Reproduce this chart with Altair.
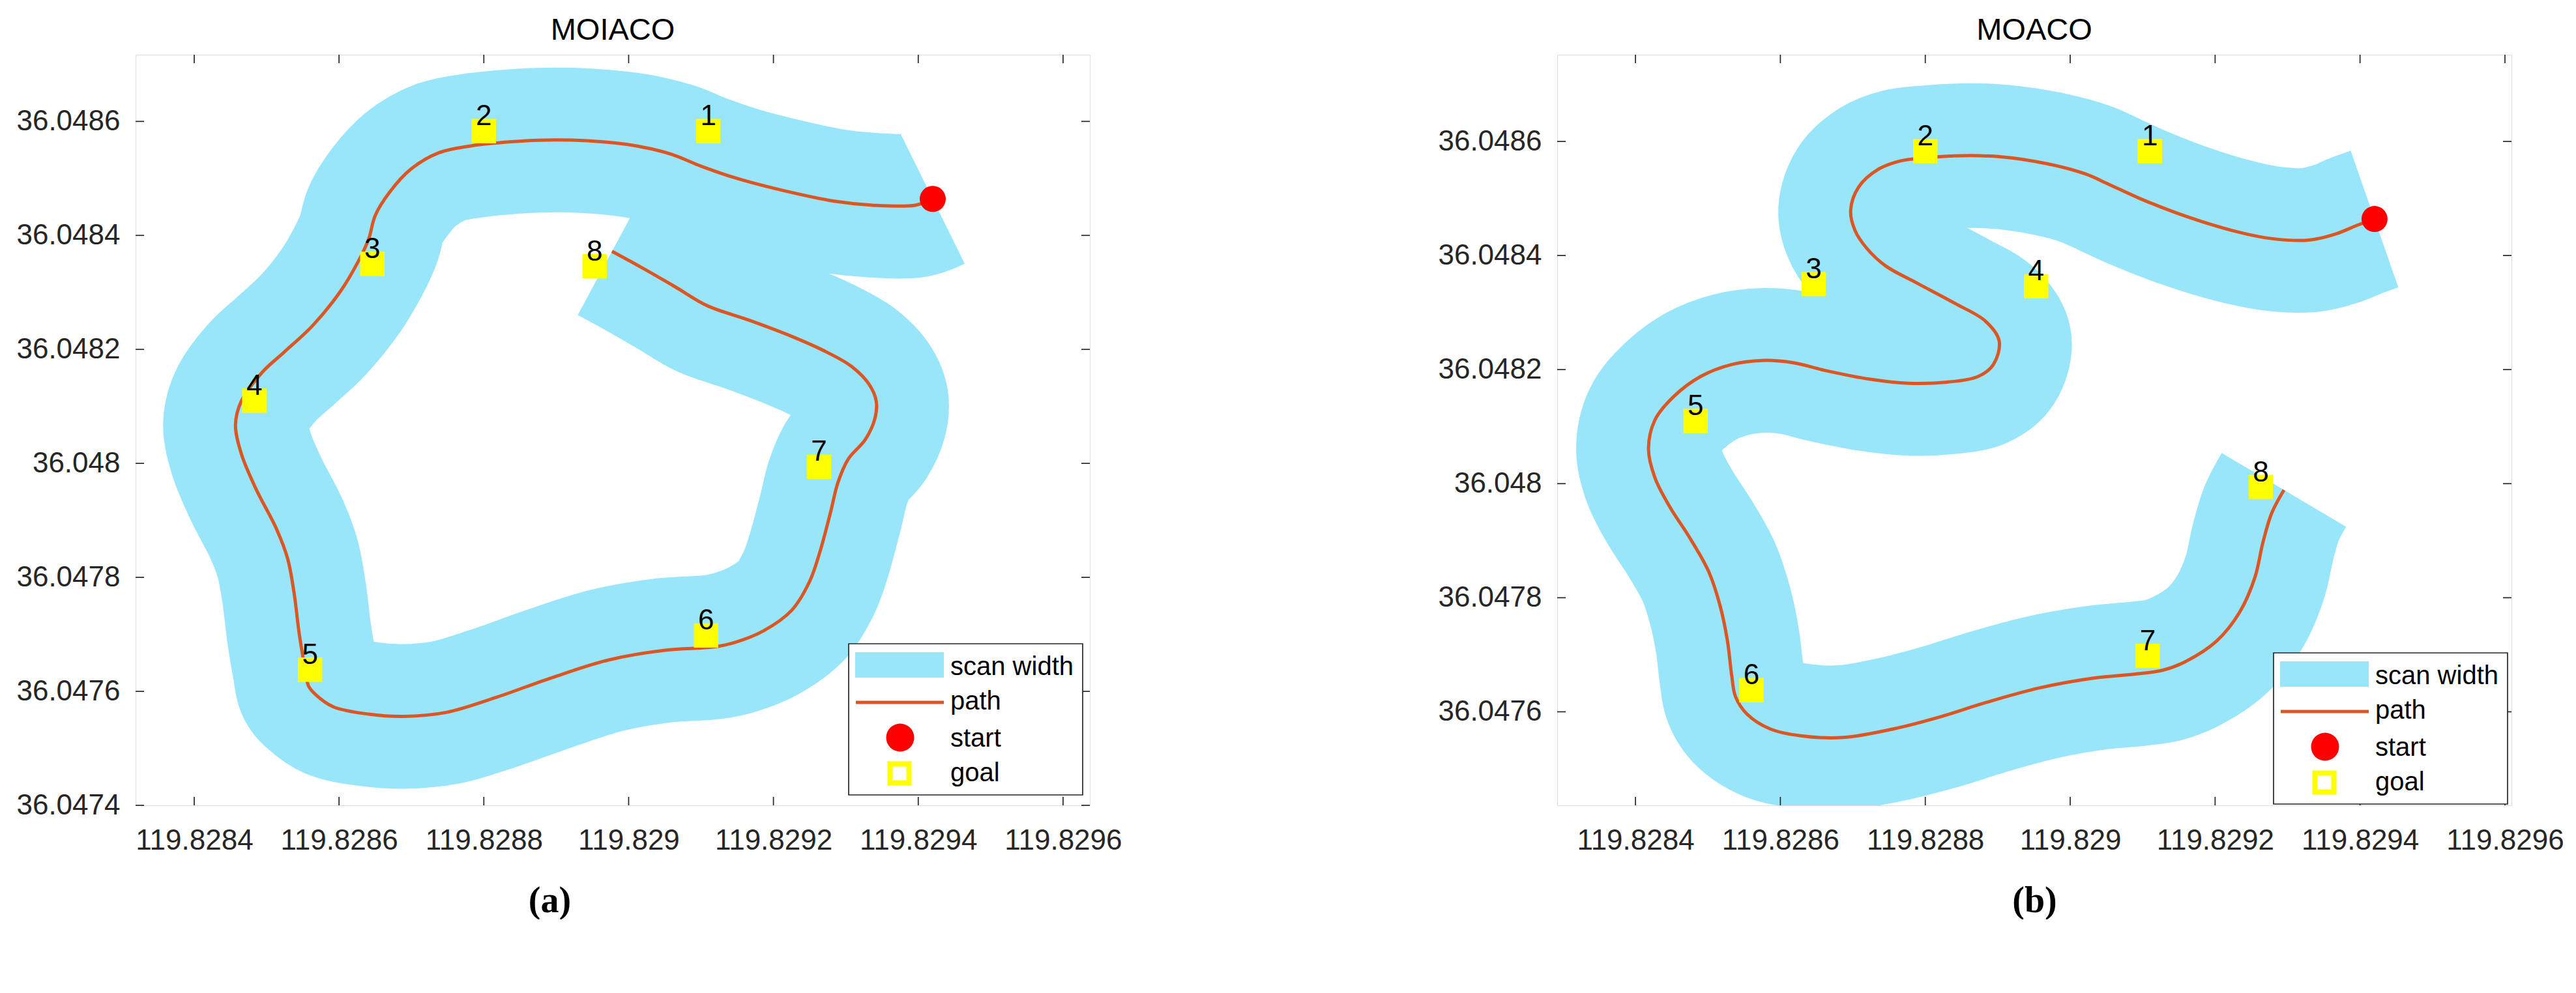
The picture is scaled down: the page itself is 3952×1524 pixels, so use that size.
import altair as alt
import pandas as pd

FONT = "Liberation Sans"
AX = "#262626"
BAND = "#99E6FA"
PATHC = "#DC5624"

# ---------------- data ----------------
x_ticks = [119.8284, 119.8286, 119.8288, 119.8290, 119.8292, 119.8294, 119.8296]
y_ticks_a = [36.0474, 36.0476, 36.0478, 36.0480, 36.0482, 36.0484, 36.0486]
y_ticks_b = [36.0476, 36.0478, 36.0480, 36.0482, 36.0484, 36.0486]

xdom_a = [119.828319, 119.829637]
ydom_a = [36.0474, 36.048717]
xdom_b = [119.828292, 119.829609]
ydom_b = [36.047436, 36.048752]

# (a) MOIACO path
path_a_lon = [119.829420, 119.829396, 119.829337, 119.829284, 119.829206, 119.829147, 119.829099,
              119.829060, 119.829011, 119.828943, 119.828874, 119.828816, 119.828782, 119.828738,
              119.828699, 119.828670, 119.828650, 119.828641, 119.828626, 119.828602, 119.828563,
              119.828524, 119.828494, 119.828465, 119.828457, 119.828465, 119.828485, 119.828514,
              119.828529, 119.828538, 119.828545, 119.828553, 119.828558, 119.828568, 119.828592,
              119.828641, 119.828689, 119.828748, 119.828816, 119.828894, 119.828972, 119.829050,
              119.829118, 119.829147, 119.829186, 119.829225, 119.829250, 119.829264, 119.829279,
              119.829289, 119.829303, 119.829327, 119.829340, 119.829342, 119.829332, 119.829308,
              119.829274, 119.829225, 119.829167, 119.829108, 119.829064, 119.829016, 119.828977]
path_a_lat = [36.048464, 36.048453, 36.048453, 36.048460, 36.048481, 36.048501, 36.048522,
              36.048542, 36.048557, 36.048566, 36.048567, 36.048562, 36.048557, 36.048545,
              36.048516, 36.048476, 36.048435, 36.048394, 36.048353, 36.048302, 36.048241,
              36.048195, 36.048160, 36.048109, 36.048068, 36.048017, 36.047956, 36.047884,
              36.047833, 36.047772, 36.047701, 36.047640, 36.047609, 36.047594, 36.047573,
              36.047560, 36.047556, 36.047563, 36.047589, 36.047624, 36.047655, 36.047672,
              36.047678, 36.047686, 36.047706, 36.047742, 36.047793, 36.047844, 36.047915,
              36.047966, 36.048007, 36.048042, 36.048078, 36.048109, 36.048139, 36.048170,
              36.048195, 36.048223, 36.048251, 36.048277, 36.048310, 36.048345, 36.048372]

# (b) MOACO path
path_b_lon = [119.829420, 119.829396, 119.829367, 119.829329, 119.829276, 119.829223, 119.829159,
              119.829096, 119.829053, 119.829021, 119.828968, 119.828905, 119.828851, 119.828798,
              119.828766, 119.828735, 119.828708, 119.828697, 119.828703, 119.828719, 119.828745,
              119.828788, 119.828841, 119.828883, 119.828902, 119.828894, 119.828873, 119.828830,
              119.828777, 119.828724, 119.828660, 119.828618, 119.828575, 119.828533, 119.828490,
              119.828453, 119.828427, 119.828418, 119.828427, 119.828448, 119.828474, 119.828501,
              119.828517, 119.828527, 119.828533, 119.828538, 119.828554, 119.828586, 119.828628,
              119.828687, 119.828756, 119.828820, 119.828883, 119.828958, 119.829032, 119.829096,
              119.829128, 119.829159, 119.829202, 119.829234, 119.829255, 119.829266, 119.829278,
              119.829295]
path_b_lat = [36.048464, 36.048453, 36.048438, 36.048427, 36.048430, 36.048444, 36.048469,
              36.048500, 36.048525, 36.048543, 36.048561, 36.048573, 36.048575, 36.048571,
              36.048566, 36.048551, 36.048520, 36.048479, 36.048444, 36.048413, 36.048382,
              36.048352, 36.048316, 36.048285, 36.048250, 36.048209, 36.048188, 36.048178,
              36.048176, 36.048183, 36.048199, 36.048212, 36.048216, 36.048209, 36.048188,
              36.048153, 36.048112, 36.048061, 36.048010, 36.047958, 36.047907, 36.047846,
              36.047785, 36.047724, 36.047662, 36.047627, 36.047596, 36.047570, 36.047558,
              36.047555, 36.047570, 36.047591, 36.047616, 36.047642, 36.047659, 36.047667,
              36.047673, 36.047688, 36.047724, 36.047775, 36.047836, 36.047897, 36.047948,
              36.047989]

goal_ids = ["1", "2", "3", "4", "5", "6", "7", "8"]
goal_a_lon = [119.829110, 119.828800, 119.828646, 119.828483, 119.828560, 119.829107, 119.829263, 119.828953]
goal_a_lat = [36.048583, 36.048583, 36.048350, 36.048110, 36.047638, 36.047698, 36.047994, 36.048346]
goal_b_lon = [119.829110, 119.828800, 119.828646, 119.828953, 119.828483, 119.828560, 119.829107, 119.829263]
goal_b_lat = [36.048583, 36.048583, 36.048350, 36.048346, 36.048110, 36.047638, 36.047698, 36.047994]

start_lon = [119.829420]
start_lat = [36.048464]

legend_labels = ["scan width", "path", "start", "goal"]
panel_titles = ["MOIACO", "MOACO"]
captions = ["(a)", "(b)"]

W, H = 1464, 1152


def panel(title, caption, cap_x, lon, lat, glon, glat, xdom, ydom, yticks, lx, ly):
    xs = alt.Scale(domain=xdom, nice=False, zero=False)
    ys = alt.Scale(domain=ydom, nice=False, zero=False)
    xaxis = alt.Axis(values=x_ticks, format=".7~g", ticks=False, tickSize=0, domain=False, grid=False,
                     labelFlush=False, labelOverlap=False, labelLimit=500, labelFont=FONT, labelFontSize=44,
                     labelColor=AX, labelPadding=32,
                     title=caption, titleFont="Liberation Serif", titleFontSize=56,
                     titleFontWeight="bold", titleColor="black", titleX=cap_x, titleY=146,
                     titleAlign="center", titleBaseline="middle")
    yaxis = alt.Axis(values=yticks, format=".6~g", ticks=False, tickSize=0, domain=False, grid=False,
                     labelFlush=False, labelOverlap=False, labelLimit=500, labelFont=FONT, labelFontSize=44,
                     labelColor=AX, labelPadding=24, title=None)

    def X():
        return alt.X("lon:Q", scale=xs, axis=xaxis)

    def Y():
        return alt.Y("lat:Q", scale=ys, axis=yaxis)

    pdf = pd.DataFrame({"lon": lon, "lat": lat, "i": list(range(len(lon)))})
    gdf = pd.DataFrame({"lon": glon, "lat": glat, "id": goal_ids})
    sdf = pd.DataFrame({"lon": start_lon, "lat": start_lat})

    band = alt.Chart(pdf).mark_line(color=BAND, strokeWidth=222, strokeCap="butt", strokeJoin="round",
                                    interpolate="catmull-rom", clip=True).encode(x=X(), y=Y(), order="i:Q")
    path = alt.Chart(pdf).mark_line(color=PATHC, strokeWidth=5, interpolate="catmull-rom").encode(
        x=X(), y=Y(), order="i:Q")
    goals = alt.Chart(gdf).mark_square(size=1400, color="#FFFF00", opacity=1, filled=True).encode(x=X(), y=Y())
    labels = alt.Chart(gdf).mark_text(fontSize=44, font=FONT, color="black", baseline="alphabetic",
                                      dy=-9).encode(x=X(), y=Y(), text="id:N")
    start = alt.Chart(sdf).mark_circle(size=1600, color="#FF0000", opacity=1).encode(x=X(), y=Y())

    xt = pd.DataFrame({"lon": x_ticks})
    yt = pd.DataFrame({"lat": yticks})
    tb = alt.Chart(xt).mark_rule(color=AX, strokeWidth=1.7).encode(x=X(), y=alt.value(H), y2=alt.value(H - 13))
    tt = alt.Chart(xt).mark_rule(color=AX, strokeWidth=1.7).encode(x=X(), y=alt.value(0), y2=alt.value(13))
    tl = alt.Chart(yt).mark_rule(color=AX, strokeWidth=1.7).encode(y=Y(), x=alt.value(0), x2=alt.value(13))
    tr = alt.Chart(yt).mark_rule(color=AX, strokeWidth=1.7).encode(y=Y(), x=alt.value(W), x2=alt.value(W - 13))

    one = pd.DataFrame({"k": [0]})
    ttl = alt.Chart(one).mark_text(text=title, fontSize=47, font=FONT, color="black",
                                   align="center", baseline="alphabetic").encode(
        x=alt.value(W / 2), y=alt.value(-23))
    box = alt.Chart(one).mark_rect(fill="white", stroke=AX, strokeWidth=1.7).encode(
        x=alt.value(lx), x2=alt.value(lx + 359), y=alt.value(ly), y2=alt.value(ly + 232))
    lrect = alt.Chart(one).mark_rect(fill=BAND).encode(
        x=alt.value(lx + 10), x2=alt.value(lx + 146), y=alt.value(ly + 13), y2=alt.value(ly + 52))
    lline = alt.Chart(one).mark_rule(color=PATHC, strokeWidth=5).encode(
        x=alt.value(lx + 11), x2=alt.value(lx + 146), y=alt.value(ly + 90))
    ldot = alt.Chart(one).mark_point(shape="circle", size=1849, filled=True, color="#FF0000", opacity=1).encode(
        x=alt.value(lx + 79), y=alt.value(ly + 144))
    lsq = alt.Chart(one).mark_point(shape="square", size=841, filled=False, color="#FFFF00",
                                    strokeWidth=8, opacity=1).encode(
        x=alt.value(lx + 78), y=alt.value(ly + 199))
    row_y = [36, 89, 146, 199]
    ltxt = [alt.Chart(one).mark_text(text=legend_labels[k], fontSize=40, font=FONT, color="black",
                                     align="left", baseline="middle").encode(
        x=alt.value(lx + 156), y=alt.value(ly + row_y[k])) for k in range(4)]

    ch = alt.layer(band, path, goals, labels, start, tb, tt, tl, tr, ttl, box, lrect, lline, ldot, lsq,
                   *ltxt).properties(width=W, height=H)
    return ch


left = panel(panel_titles[0], captions[0], 635, path_a_lon, path_a_lat, goal_a_lon, goal_a_lat,
             xdom_a, ydom_a, y_ticks_a, 1094, 904)
right = panel(panel_titles[1], captions[1], 732, path_b_lon, path_b_lat, goal_b_lon, goal_b_lat,
              xdom_b, ydom_b, y_ticks_b, 1099, 918)

chart = alt.hconcat(left, right, spacing=717, bounds="flush").properties(
    padding={"left": 16, "top": 14, "right": 0, "bottom": 0}
).configure_view(stroke=AX, strokeWidth=1.7).configure(background="white")

chart.save("out.html", embed_options={"renderer": "svg", "actions": False})
